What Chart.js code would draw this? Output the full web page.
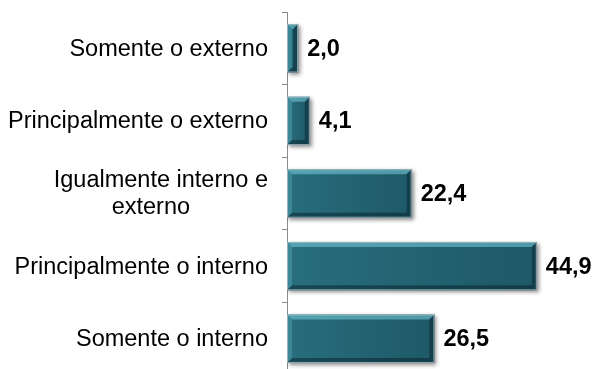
<!DOCTYPE html>
<html>
<head>
<meta charset="utf-8">
<script src="https://cdn.jsdelivr.net/npm/chart.js@4/dist/chart.umd.min.js"></script>
<style>
  html, body { margin: 0; padding: 0; background: #ffffff; overflow: hidden; }
  #wrap { width: 593px; height: 369px; overflow: hidden; }
  #box { position: relative; width: 593px; height: 376px; }
</style>
</head>
<body>
<div id="wrap"><div id="box"><canvas id="c"></canvas></div></div>
<script>
// Categories, top to bottom
const categories = [
  'Somente o externo',
  'Principalmente o externo',
  ['Igualmente interno e', 'externo'],
  'Principalmente o interno',
  'Somente o interno'
];
// Percentages
const values = [2.0, 4.1, 22.4, 44.9, 26.5];

const FONT = "'Liberation Sans', Arial, Helvetica, sans-serif";
const fmt = v => v.toFixed(1).replace('.', ',');

// Drop shadow behind the bars
const barShadow = {
  id: 'barShadow',
  beforeDatasetDraw(chart) {
    const ctx = chart.ctx;
    ctx.save();
    ctx.shadowColor = 'rgba(0,0,0,0.45)';
    ctx.shadowBlur = 4;
    ctx.shadowOffsetX = 2;
    ctx.shadowOffsetY = 2;
  },
  afterDatasetDraw(chart) {
    chart.ctx.restore();
  }
};

// Bevelled look on each bar, category labels and value labels
const decorations = {
  id: 'decorations',
  afterDatasetsDraw(chart) {
    const ctx = chart.ctx;
    const meta = chart.getDatasetMeta(0);
    const yScale = chart.scales.y;
    const bev = 5;

    meta.data.forEach((bar, i) => {
      const p = bar.getProps(['x', 'y', 'base', 'height'], true);
      const x0 = Math.min(p.base, p.x), x1 = Math.max(p.base, p.x);
      const y0 = p.y - p.height / 2, y1 = p.y + p.height / 2;
      const w = x1 - x0, h = y1 - y0;
      const b = Math.min(bev, w / 2);

      ctx.save();
      // face shading: slightly lighter on the left, darker on the right
      const g = ctx.createLinearGradient(x0, 0, x1, 0);
      g.addColorStop(0, 'rgba(70,160,175,0.16)');
      g.addColorStop(1, 'rgba(0,20,30,0.14)');
      ctx.fillStyle = g;
      ctx.fillRect(x0, y0, w, h);

      // top bevel
      ctx.beginPath();
      ctx.moveTo(x0, y0); ctx.lineTo(x1, y0);
      ctx.lineTo(x1 - b, y0 + b); ctx.lineTo(x0 + b, y0 + b); ctx.closePath();
      ctx.fillStyle = 'rgba(120,205,220,0.55)';
      ctx.fill();
      // left bevel
      ctx.beginPath();
      ctx.moveTo(x0, y0); ctx.lineTo(x0 + b, y0 + b);
      ctx.lineTo(x0 + b, y1 - b); ctx.lineTo(x0, y1); ctx.closePath();
      ctx.fillStyle = 'rgba(100,185,200,0.35)';
      ctx.fill();
      // bottom bevel
      ctx.beginPath();
      ctx.moveTo(x0, y1); ctx.lineTo(x0 + b, y1 - b);
      ctx.lineTo(x1 - b, y1 - b); ctx.lineTo(x1, y1); ctx.closePath();
      ctx.fillStyle = 'rgba(0,15,25,0.40)';
      ctx.fill();
      // right bevel
      ctx.beginPath();
      ctx.moveTo(x1, y0); ctx.lineTo(x1, y1);
      ctx.lineTo(x1 - b, y1 - b); ctx.lineTo(x1 - b, y0 + b); ctx.closePath();
      ctx.fillStyle = 'rgba(0,15,25,0.35)';
      ctx.fill();

      // thin light outline
      ctx.strokeStyle = 'rgba(160,185,190,0.9)';
      ctx.lineWidth = 1;
      ctx.strokeRect(x0 + 0.5, y0 + 0.5, w - 1, h - 1);
      ctx.restore();

      // value label
      ctx.save();
      ctx.font = `bold 23.5px ${FONT}`;
      ctx.fillStyle = '#000000';
      ctx.textAlign = 'left';
      ctx.textBaseline = 'middle';
      ctx.fillText(fmt(values[i]), x1 + 9, p.y + 1);
      ctx.restore();
    });

    // category labels to the left of the axis
    ctx.save();
    ctx.font = `23.5px ${FONT}`;
    ctx.fillStyle = '#000000';
    ctx.textBaseline = 'middle';
    const right = yScale.right - 19;
    const lh = 27;
    categories.forEach((lab, i) => {
      const cy = yScale.getPixelForValue(i) + 1;
      const lines = Array.isArray(lab) ? lab : [lab];
      const widths = lines.map(s => ctx.measureText(s).width);
      const maxW = Math.max(...widths);
      const cx = right - maxW / 2;
      const top = cy - (lines.length - 1) * lh / 2;
      lines.forEach((s, k) => {
        ctx.textAlign = 'center';
        // wrapped lines sit a little left of the block centre
        const shift = k > 0 ? -10 : 0;
        ctx.fillText(s, cx + shift, top + k * lh);
      });
    });
    ctx.restore();
  }
};

new Chart(document.getElementById('c'), {
  type: 'bar',
  data: {
    labels: categories,
    datasets: [{
      data: values,
      backgroundColor: '#236574',
      borderWidth: 0,
      barPercentage: 0.667,
      categoryPercentage: 1.0
    }]
  },
  options: {
    indexAxis: 'y',
    responsive: true,
    maintainAspectRatio: false,
    animation: false,
    layout: { padding: { top: 12, bottom: 1, left: 0, right: 0 } },
    plugins: {
      legend: { display: false },
      tooltip: { enabled: false }
    },
    scales: {
      x: {
        display: false,
        min: 0,
        max: 55
      },
      y: {
        afterFit(scale) { scale.width = 287; },
        ticks: { display: false },
        grid: {
          display: true,
          drawOnChartArea: false,
          drawTicks: true,
          tickLength: 5,
          offset: true,
          color: '#8c8c8c',
          lineWidth: 1
        },
        border: { display: true, color: '#8c8c8c', width: 1 }
      }
    }
  },
  plugins: [barShadow, decorations]
});
</script>
</body>
</html>
